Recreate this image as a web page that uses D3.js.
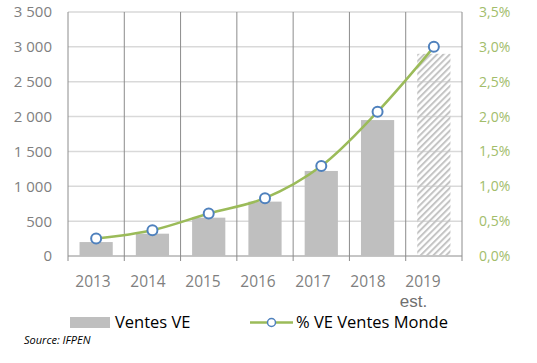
<!DOCTYPE html>
<html>
<head>
<meta charset="utf-8">
<script src="https://cdn.jsdelivr.net/npm/d3@7"></script>
<style>
  body { margin: 0; background: #fff; }
  svg { display: block; font-family: "Open Sans", sans-serif; }
</style>
</head>
<body>
<div id="chart"></div>
<script>
  // data gelezen uit de grafiek
  var years = ['2013', '2014', '2015', '2016', '2017', '2018', '2019'];
  var ventesVE = [200, 320, 550, 780, 1220, 1950, 2900];
  var partMonde = [0.25, 0.37, 0.61, 0.83, 1.29, 2.07, 3.0];
  var leftTicks = [0, 500, 1000, 1500, 2000, 2500, 3000, 3500];
  var rightTicks = [0, 0.5, 1, 1.5, 2, 2.5, 3, 3.5];
  var estimateYear = '2019';

  var width = 537, height = 363;
  var plot = {left: 68, right: 462, top: 12, bottom: 256};

  var svg = d3.select('#chart')
    .append('svg')
    .attr('width', width)
    .attr('height', height);

  // schalen
  var xScale = d3.scaleBand()
    .domain(years)
    .range([plot.left, plot.right])
    .paddingInner(0.41)
    .paddingOuter(0.205);

  // labels staan iets naar links in het origineel
  var xLabel = d3.scaleBand()
    .domain(years)
    .range([plot.left - 2.5, plot.left - 2.5 + 385]);

  var yLeft = d3.scaleLinear().domain([0, 3500]).range([plot.bottom, plot.top]);
  var yRight = d3.scaleLinear().domain([0, 3.5]).range([plot.bottom, plot.top]);

  var fmtLeft = function(d){ return d3.format(',')(d).replace(',', ' '); };
  var fmtRight = function(d){ return d3.format('.1f')(d).replace('.', ',') + '%'; };

  // arcering voor de schatting
  var defs = svg.append('defs');
  defs.append('pattern')
    .attr('id', 'hatch')
    .attr('patternUnits', 'userSpaceOnUse')
    .attr('width', 4.5)
    .attr('height', 4.5)
    .attr('patternTransform', 'rotate(45)')
    .append('line')
    .attr('x1', 1).attr('y1', 0)
    .attr('x2', 1).attr('y2', 4.5)
    .attr('stroke', '#c4c4c4')
    .attr('stroke-width', 2);

  // horizontale rasterlijnen
  svg.append('g').selectAll('line')
    .data(leftTicks.filter(function(d){ return d > 0; }))
    .enter().append('line')
    .attr('x1', plot.left).attr('x2', plot.right)
    .attr('y1', function(d){ return yLeft(d); })
    .attr('y2', function(d){ return yLeft(d); })
    .attr('stroke', '#d9d9d9')
    .attr('stroke-width', 1.5);

  // verticale lijnen tussen de categorieen
  var gap = (xScale.step() - xScale.bandwidth()) / 2;
  var bounds = years.map(function(d){ return xScale(d) - gap; });
  bounds.push(plot.right);
  svg.append('g').selectAll('line')
    .data(bounds)
    .enter().append('line')
    .attr('x1', function(d){ return d; })
    .attr('x2', function(d){ return d; })
    .attr('y1', plot.top)
    .attr('y2', plot.bottom + 5)
    .attr('stroke', '#8c8c8c')
    .attr('stroke-width', 1);

  // x-as lijn
  svg.append('line')
    .attr('x1', plot.left).attr('x2', plot.right)
    .attr('y1', plot.bottom).attr('y2', plot.bottom)
    .attr('stroke', '#8c8c8c')
    .attr('stroke-width', 1);

  // staven
  svg.append('g').selectAll('rect')
    .data(years)
    .enter().append('rect')
    .attr('x', function(d){ return xScale(d); })
    .attr('width', xScale.bandwidth())
    .attr('y', function(d, i){ return yLeft(ventesVE[i]); })
    .attr('height', function(d, i){ return plot.bottom - yLeft(ventesVE[i]); })
    .attr('fill', function(d){ return d === estimateYear ? 'url(#hatch)' : '#bfbfbf'; });

  // lijn met punten
  var line = d3.line()
    .x(function(d, i){ return xScale(years[i]) + xScale.bandwidth() / 2; })
    .y(function(d){ return yRight(d); })
    .curve(d3.curveCatmullRom.alpha(0.5));

  svg.append('path')
    .datum(partMonde)
    .attr('d', line)
    .attr('fill', 'none')
    .attr('stroke', '#9bbb59')
    .attr('stroke-width', 2.5);

  svg.append('g').selectAll('circle')
    .data(partMonde)
    .enter().append('circle')
    .attr('cx', function(d, i){ return xScale(years[i]) + xScale.bandwidth() / 2; })
    .attr('cy', function(d){ return yRight(d); })
    .attr('r', 5)
    .attr('fill', '#fff')
    .attr('stroke', '#4f81bd')
    .attr('stroke-width', 2);

  // linker as labels
  svg.append('g').selectAll('text')
    .data(leftTicks)
    .enter().append('text')
    .attr('x', 52)
    .attr('y', function(d){ return yLeft(d); })
    .attr('dy', '0.36em')
    .attr('text-anchor', 'end')
    .attr('font-size', 15)
    .attr('fill', '#7f7f7f')
    .text(fmtLeft);

  // rechter as labels
  svg.append('g').selectAll('text')
    .data(rightTicks)
    .enter().append('text')
    .attr('x', 479)
    .attr('y', function(d){ return yRight(d); })
    .attr('dy', '0.36em')
    .attr('font-size', 14)
    .attr('fill', '#a2bd6b')
    .text(fmtRight);

  // jaar labels
  svg.append('g').selectAll('text')
    .data(years)
    .enter().append('text')
    .attr('x', function(d){ return xLabel(d) + xLabel.bandwidth() / 2; })
    .attr('y', 286.5)
    .attr('text-anchor', 'middle')
    .attr('font-size', 15.5)
    .attr('fill', '#7f7f7f')
    .text(function(d){ return d; });

  // tweede regel onder het geschatte jaar
  svg.append('text')
    .attr('x', xLabel(estimateYear) + xLabel.bandwidth() / 2 - 9.5)
    .attr('y', 306.5)
    .attr('text-anchor', 'middle')
    .attr('font-family', '"Liberation Sans", sans-serif')
    .attr('font-size', 17)
    .attr('fill', '#6f6f6f')
    .text('est.');

  // legenda
  var legend = svg.append('g');
  legend.append('rect')
    .attr('x', 70).attr('y', 317)
    .attr('width', 40).attr('height', 11)
    .attr('fill', '#bfbfbf');
  legend.append('text')
    .attr('x', 115).attr('y', 328)
    .attr('font-size', 16.5)
    .attr('fill', '#000')
    .text('Ventes VE');
  legend.append('line')
    .attr('x1', 250).attr('x2', 293)
    .attr('y1', 322.5).attr('y2', 322.5)
    .attr('stroke', '#9bbb59')
    .attr('stroke-width', 2.5);
  legend.append('circle')
    .attr('cx', 271.5).attr('cy', 322.5)
    .attr('r', 4)
    .attr('fill', '#fff')
    .attr('stroke', '#4f81bd')
    .attr('stroke-width', 1.5);
  legend.append('text')
    .attr('x', 296).attr('y', 328)
    .attr('font-size', 16.5)
    .attr('fill', '#000')
    .text('% VE Ventes Monde');

  // bron
  svg.append('text')
    .attr('x', 24).attr('y', 344)
    .attr('font-size', 11)
    .attr('font-style', 'italic')
    .attr('fill', '#000')
    .text('Source: IFPEN');
</script>
</body>
</html>
